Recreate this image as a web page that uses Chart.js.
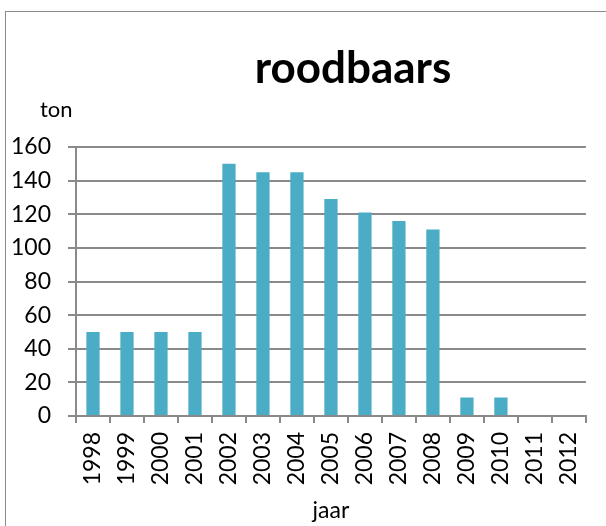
<!DOCTYPE html>
<html>
<head>
<meta charset="utf-8">
<script src="https://cdn.jsdelivr.net/npm/chart.js@4"></script>
<style>
  html, body { margin: 0; padding: 0; background: #fff; overflow: hidden; }
  #frame { position: absolute; left: 5px; top: 11px; width: 700px; height: 600px; border: 1.5px solid #8a8a8a; }
  #wrap { position: absolute; left: 0; top: 0; width: 606px; height: 526px; }
</style>
</head>
<body>
<div id="frame"></div>
<div id="wrap"><canvas id="c" width="606" height="526"></canvas></div>
<script>
const categories = ['1998','1999','2000','2001','2002','2003','2004','2005','2006','2007','2008','2009','2010','2011','2012'];
const values = [50, 50, 50, 50, 150, 145, 145, 129, 121, 116, 111, 11, 11, 0, 0];
const yTicks = [0, 20, 40, 60, 80, 100, 120, 140, 160];
const chartTitle = 'roodbaars';
const yTitle = 'ton';
const xTitle = 'jaar';

const FONT = 'Lato, "Open Sans", sans-serif';
const GRID = '#8a8a8a';

const textPlugin = {
  id: 'texts',
  afterDraw(chart) {
    const ctx = chart.ctx;
    ctx.save();
    ctx.fillStyle = '#000';
    ctx.textBaseline = 'alphabetic';
    ctx.textAlign = 'center';
    ctx.font = 'bold 44px ' + FONT;
    ctx.fillText(chartTitle, 353, 83);
    ctx.textAlign = 'left';
    ctx.font = '22px ' + FONT;
    ctx.fillText(yTitle, 40, 117);
    ctx.restore();
  }
};

new Chart(document.getElementById('c'), {
  type: 'bar',
  data: {
    labels: categories,
    datasets: [{
      data: values,
      backgroundColor: '#4BACC6',
      borderWidth: 0,
      barPercentage: 0.39,
      categoryPercentage: 1.0
    }]
  },
  options: {
    responsive: false,
    animation: false,
    layout: { padding: { left: 0, right: 15, top: 147, bottom: 0 } },
    plugins: {
      legend: { display: false },
      tooltip: { enabled: false },
      title: { display: false }
    },
    scales: {
      x: {
        grid: { display: true, drawOnChartArea: false, drawTicks: true, tickLength: 7, color: GRID, lineWidth: 2, offset: true },
        border: { display: true, color: GRID, width: 2 },
        ticks: { color: '#000', font: { family: FONT, size: 23 }, minRotation: 90, maxRotation: 90, padding: 9, autoSkip: false },
        title: { display: true, text: xTitle, color: '#000', font: { family: FONT, size: 23 }, padding: { top: 0, bottom: 2 } },
        afterFit(scale) { scale.height = 110; }
      },
      y: {
        min: 0,
        max: 160,
        afterBuildTicks(scale) { scale.ticks = yTicks.map(v => ({ value: v })); },
        grid: { color: GRID, lineWidth: 2, tickLength: 8, drawTicks: true },
        border: { display: true, color: GRID, width: 2 },
        ticks: { color: '#000', font: { family: FONT, size: 23 }, padding: 17 },
        afterFit(scale) { scale.width = 76; }
      }
    }
  },
  plugins: [textPlugin]
});
</script>
</body>
</html>
